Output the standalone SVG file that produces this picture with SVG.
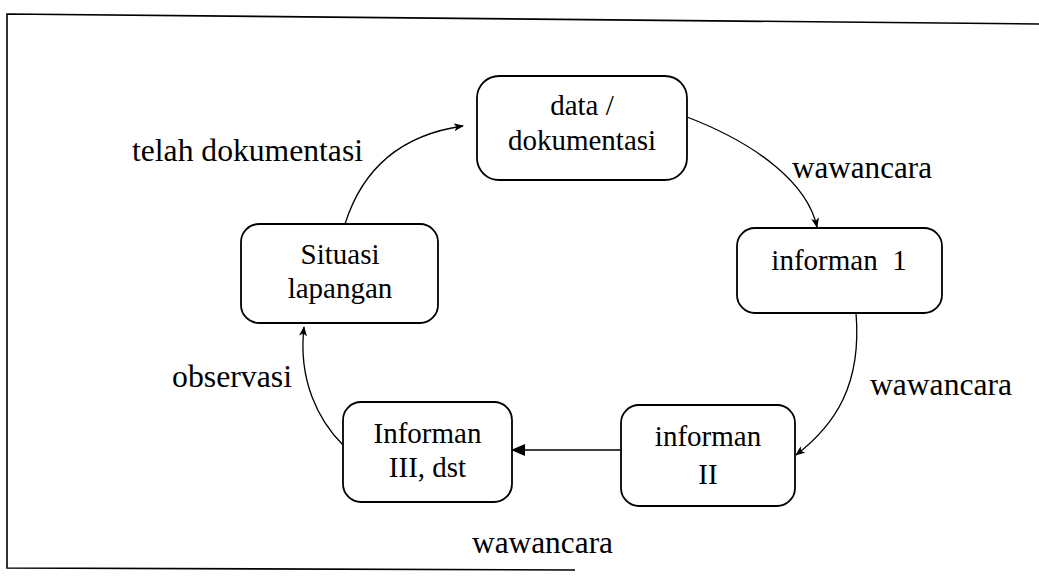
<svg xmlns="http://www.w3.org/2000/svg" width="1039" height="578" viewBox="0 0 1039 578">
<defs>
<marker id="ah" viewBox="0 0 10 8" refX="9" refY="4" markerWidth="10" markerHeight="8" markerUnits="userSpaceOnUse" orient="auto">
<path d="M0,0 L10,4 L0,8 L2.5,4 Z" fill="#000"/>
</marker>
<marker id="ahb" viewBox="0 0 14 12" refX="13" refY="6" markerWidth="14" markerHeight="12" markerUnits="userSpaceOnUse" orient="auto">
<path d="M0,0 L14,6 L0,12 Z" fill="#000"/>
</marker>
</defs>
<style>
.box{fill:#fff;stroke:#000;stroke-width:1.8}
.c{fill:none;stroke:#000;stroke-width:1.3}
.frame{fill:none;stroke:#000;stroke-width:1.6}
text{font-family:'Liberation Serif',serif}
</style>
<rect width="1039" height="578" fill="#fff"/>
<g id="frame">
<polyline class="frame" points="1039,24 7,14 7,568 575,570"/>
</g>
<g id="connectors">
<path class="c" d="M345,224 C362,170 400,135 463,126" marker-end="url(#ah)"/>
<path class="c" d="M687,117 C760,145 808,185 817,227" marker-end="url(#ah)"/>
<path class="c" d="M856,313 C862,385 835,425 796,455" marker-end="url(#ah)"/>
<path class="c" d="M621,450 L512,450" marker-end="url(#ahb)"/>
<path class="c" d="M343,445 C318,420 298,380 304,327" marker-end="url(#ah)"/>
</g>
<g id="node-data">
<rect class="box" x="477" y="76" width="210" height="104" rx="22"/>
<text x="582" y="115" font-family="'Liberation Serif', serif" font-size="29" text-anchor="middle">data /</text>
<text x="582" y="150" font-family="'Liberation Serif', serif" font-size="29" text-anchor="middle">dokumentasi</text>
</g>
<g id="node-informan1">
<rect class="box" x="737" y="228" width="205" height="85" rx="18"/>
<text x="839" y="270" font-family="'Liberation Serif', serif" font-size="29" text-anchor="middle" xml:space="preserve">informan  1</text>
</g>
<g id="node-informan2">
<rect class="box" x="621" y="405" width="174" height="101" rx="18"/>
<text x="708" y="446" font-family="'Liberation Serif', serif" font-size="29" text-anchor="middle">informan</text>
<text x="708" y="484" font-family="'Liberation Serif', serif" font-size="29" text-anchor="middle">II</text>
</g>
<g id="node-informan3">
<rect class="box" x="343" y="402" width="169" height="100" rx="18"/>
<text x="427.5" y="443" font-family="'Liberation Serif', serif" font-size="29" text-anchor="middle">Informan</text>
<text x="427.5" y="477" font-family="'Liberation Serif', serif" font-size="29" text-anchor="middle">III, dst</text>
</g>
<g id="node-situasi">
<rect class="box" x="241" y="224" width="197" height="99" rx="18"/>
<text x="340" y="264" font-family="'Liberation Serif', serif" font-size="29" text-anchor="middle">Situasi</text>
<text x="340" y="298" font-family="'Liberation Serif', serif" font-size="29" text-anchor="middle">lapangan</text>
</g>
<g id="labels">
<text x="132" y="161" font-family="'Liberation Serif', serif" font-size="31" textLength="231" lengthAdjust="spacingAndGlyphs">telah dokumentasi</text>
<text x="792" y="178" font-family="'Liberation Serif', serif" font-size="31" textLength="140" lengthAdjust="spacingAndGlyphs">wawancara</text>
<text x="870" y="395" font-family="'Liberation Serif', serif" font-size="31" textLength="142" lengthAdjust="spacingAndGlyphs">wawancara</text>
<text x="472" y="553" font-family="'Liberation Serif', serif" font-size="31" textLength="141" lengthAdjust="spacingAndGlyphs">wawancara</text>
<text x="172" y="387" font-family="'Liberation Serif', serif" font-size="31" textLength="120" lengthAdjust="spacingAndGlyphs">observasi</text>
</g>
</svg>
